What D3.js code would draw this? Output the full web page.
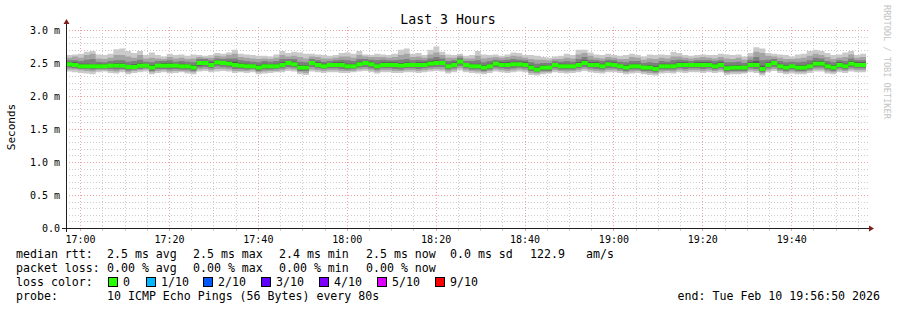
<!DOCTYPE html>
<html>
<head>
<meta charset="utf-8">
<script src="https://cdn.jsdelivr.net/npm/d3@7"></script>
<style>
  body { margin: 0; background: #fff; }
  text { font-family: "DejaVu Sans Mono", monospace; fill: #000; }
</style>
</head>
<body>
<svg id="chart" width="897" height="310"></svg>
<script>
// probe settings
let endTime = new Date(2026, 1, 10, 19, 56, 50);
let stepSeconds = 80;

// median rtt per step, ms
let median = [
  2.48,2.47,2.45,2.45,2.45,2.45,2.45,2.46,2.46,2.46,2.44,2.44,2.46,2.46,2.43,2.46,2.46,2.46,2.46,2.45,
  2.45,2.43,2.50,2.50,2.47,2.51,2.50,2.49,2.47,2.46,2.45,2.45,2.43,2.45,2.45,2.45,2.47,2.50,2.48,2.43,
  2.43,2.50,2.47,2.45,2.47,2.47,2.47,2.45,2.45,2.48,2.50,2.48,2.45,2.47,2.47,2.47,2.46,2.47,2.47,2.47,
  2.47,2.49,2.50,2.50,2.45,2.47,2.52,2.47,2.45,2.45,2.43,2.45,2.49,2.47,2.47,2.48,2.48,2.47,2.43,2.40,
  2.43,2.43,2.47,2.45,2.45,2.45,2.47,2.50,2.47,2.47,2.45,2.48,2.47,2.45,2.43,2.45,2.45,2.43,2.43,2.41,
  2.45,2.45,2.45,2.47,2.47,2.47,2.47,2.47,2.47,2.45,2.47,2.42,2.43,2.43,2.43,2.47,2.47,2.41,2.47,2.50,
  2.45,2.43,2.45,2.43,2.43,2.45,2.49,2.49,2.45,2.43,2.47,2.45,2.49,2.47,2.47
];

// the 10 sorted pings of each step, in 1/100 ms
let pings = [
  [237,240,243,245,247,249,251,254,258,262],[236,240,242,244,246,248,251,254,260,263],
  [235,239,241,243,244,246,249,253,258,264],[234,238,241,243,244,246,249,255,262,267],
  [233,237,240,242,244,246,248,256,264,268],[236,239,241,243,244,246,249,252,257,263],
  [237,239,241,243,244,246,248,251,256,262],[235,238,241,244,245,247,249,253,258,264],
  [234,237,240,243,245,247,250,254,262,271],[236,239,241,244,245,247,250,254,262,272],
  [233,236,239,241,243,245,247,252,260,268],[235,238,240,242,243,245,248,253,258,265],
  [236,239,241,244,245,247,250,255,262,268],[237,240,242,244,245,247,249,252,257,262],
  [233,236,238,240,242,244,247,251,258,266],[235,238,241,243,245,247,249,253,257,262],
  [236,239,241,244,245,247,250,253,256,260],[234,237,240,243,245,247,250,254,259,264],
  [235,238,241,243,245,247,249,252,257,262],[236,238,240,242,244,246,249,253,258,263],
  [234,237,240,242,244,246,248,252,256,261],[233,236,238,240,242,244,247,251,257,263],
  [237,240,243,246,249,251,253,256,259,262],[238,241,244,247,249,251,253,256,258,261],
  [236,239,242,245,246,248,251,254,258,262],[237,241,245,248,250,252,254,257,261,265],
  [238,241,244,247,249,251,253,256,260,264],[237,240,243,246,248,250,253,257,262,266],
  [235,238,241,244,246,248,252,257,264,270],[236,238,241,243,245,247,250,254,259,264],
  [235,238,240,242,244,246,249,253,258,263],[236,239,241,243,244,246,248,252,257,262],
  [233,236,238,240,242,244,247,251,256,261],[234,237,240,242,244,246,249,253,257,261],
  [235,238,240,242,244,246,248,252,256,260],[236,238,241,243,244,246,249,253,258,263],
  [236,239,242,244,246,248,251,256,262,268],[238,241,244,247,249,251,253,256,260,265],
  [237,240,243,245,247,249,252,256,261,267],[233,236,238,240,242,244,247,252,259,266],
  [232,235,238,240,242,244,247,251,257,264],[237,240,244,247,249,251,253,256,260,264],
  [236,239,242,244,246,248,251,254,259,263],[235,238,241,243,244,246,249,252,257,262],
  [236,239,242,244,246,248,250,253,257,261],[236,239,242,244,246,248,251,254,258,262],
  [235,238,241,244,246,248,251,255,260,265],[235,238,240,242,244,246,249,254,260,266],
  [236,238,241,243,244,246,249,253,258,264],[237,240,243,245,247,249,252,256,262,268],
  [238,241,244,247,249,251,253,256,260,263],[236,239,242,245,247,249,252,255,259,262],
  [234,237,240,242,244,246,249,254,259,264],[236,239,242,244,246,248,251,255,259,263],
  [236,239,242,244,246,248,251,254,258,262],[235,238,241,244,246,248,251,254,259,264],
  [235,238,240,243,245,247,250,255,262,270],[236,239,242,244,246,248,251,256,264,272],
  [236,239,242,244,246,248,250,254,259,264],[235,238,241,244,246,248,251,255,260,265],
  [236,239,242,244,246,248,251,254,258,262],[237,240,243,246,248,250,253,257,263,270],
  [238,241,244,247,249,251,254,259,266,275],[237,240,244,247,249,251,253,257,262,267],
  [234,237,240,242,244,246,249,253,258,263],[236,239,242,244,246,248,251,254,258,262],
  [239,242,246,249,251,253,255,258,261,264],[236,239,242,244,246,248,250,253,257,261],
  [235,238,240,242,244,246,249,253,257,262],[234,237,240,242,244,246,249,254,261,268],
  [233,236,238,240,242,244,247,251,257,263],[235,238,240,242,244,246,249,253,258,262],
  [237,240,243,246,248,250,252,255,259,263],[236,239,242,244,246,248,251,254,258,261],
  [235,238,241,244,246,248,251,255,259,263],[236,239,242,245,247,249,252,256,261,266],
  [237,240,243,245,247,249,252,255,260,265],[236,239,242,244,246,248,251,254,258,262],
  [232,235,238,240,242,244,247,251,256,262],[231,234,236,238,239,241,244,249,255,261],
  [233,236,238,240,242,244,247,250,255,259],[234,236,238,240,242,244,246,250,254,258],
  [236,239,242,244,246,248,250,253,256,260],[235,238,240,242,244,246,249,252,256,261],
  [234,237,240,242,244,246,249,253,258,264],[235,238,240,242,244,246,248,252,257,262],
  [236,239,242,244,246,248,251,256,263,270],[238,241,244,247,249,251,254,259,265,270],
  [236,239,242,244,246,248,251,255,261,266],[235,238,241,244,246,248,251,254,258,263],
  [234,237,240,242,244,246,249,253,257,262],[236,239,242,245,247,249,252,255,259,264],
  [236,239,242,244,246,248,251,254,258,262],[235,238,240,242,244,246,248,252,256,261],
  [233,236,238,240,242,244,247,251,256,262],[234,237,240,242,244,246,249,253,259,264],
  [235,238,240,242,244,246,249,253,258,262],[233,236,238,240,242,244,246,250,255,260],
  [232,235,238,240,242,244,247,251,257,263],[231,234,236,238,240,242,245,250,256,262],
  [234,237,240,242,244,246,249,253,258,263],[235,238,240,242,244,246,249,252,257,262],
  [234,237,240,242,244,246,249,254,260,267],[236,239,242,244,246,248,251,255,260,265],
  [235,238,241,244,246,248,251,254,258,262],[236,239,242,244,246,248,250,253,257,261],
  [236,239,242,244,246,248,251,254,258,262],[235,238,241,244,246,248,251,254,259,263],
  [236,239,242,244,246,248,251,254,258,262],[235,238,240,242,244,246,249,253,257,262],
  [236,239,242,244,246,248,251,254,259,264],[232,235,237,239,241,243,246,251,257,263],
  [233,236,238,240,242,244,247,251,256,262],[233,236,238,240,242,244,247,252,258,263],
  [234,236,238,240,242,244,246,250,255,260],[236,239,242,244,246,248,251,255,260,265],
  [235,238,241,244,246,248,253,259,267,274],[231,234,236,238,240,242,246,254,265,272],
  [236,239,242,244,246,248,251,255,261,265],[238,241,244,247,249,251,253,256,260,264],
  [235,238,240,242,244,246,249,253,258,263],[233,236,238,240,242,244,247,251,256,262],
  [234,237,240,242,244,246,248,252,256,260],[233,236,238,240,242,244,247,251,257,263],
  [233,236,238,240,242,244,247,252,258,264],[235,238,240,242,244,246,249,254,261,268],
  [237,240,243,246,248,250,253,258,264,270],[237,240,243,246,248,250,253,257,262,268],
  [234,237,240,242,244,246,249,253,259,265],[233,236,238,240,242,244,247,251,256,262],
  [236,239,242,244,246,248,251,254,258,263],[235,238,240,242,244,246,249,253,259,266],
  [237,240,243,246,248,250,253,257,263,268],[236,239,242,244,246,248,251,254,258,262],
  [236,239,242,244,246,248,251,254,259,264]
];

let yTicks = [0, 0.5, 1.0, 1.5, 2.0, 2.5, 3.0];   // ms
let smokeColors = ["#cacaca", "#a4a4a4", "#7e7e7e", "#585858", "#323232"];
let lossLabels = ["0", "1/10", "2/10", "3/10", "4/10", "5/10", "9/10"];
let lossColors = ["#26ff00", "#00b8ff", "#0059ff", "#5e00ff", "#7e00ff", "#dd00ff", "#ff0000"];

let rttRow = ["median rtt:", "2.5 ms avg", "2.5 ms max", "2.4 ms min", "2.5 ms now", "0.0 ms sd", "122.9", "am/s"];
let lossRow = ["packet loss:", "0.00 % avg", "0.00 % max", "0.00 % min", "0.00 % now"];
let probeText = "10 ICMP Echo Pings (56 Bytes) every 80s";

let svg = d3.select("#chart");
let W = 897;
let pLeft = 66, pRight = 866, pTop = 30, pBottom = 228;

let startTime = new Date(endTime.getTime() - pings.length * stepSeconds * 1000);

let x = d3.scaleTime().domain([startTime, endTime]).range([pLeft, pRight]);
let y = d3.scaleLinear().domain([0, 3]).range([pBottom, pTop]);

// step rows, last one repeated so the step curve reaches the end
let rows = pings.map(function(p, i) {
  let t0 = new Date(startTime.getTime() + i * stepSeconds * 1000);
  let t1 = new Date(t0.getTime() + stepSeconds * 1000);
  return { t: t0, t1: t1, p: p.map(v => v / 100), med: median[i] };
});
let last = rows[rows.length - 1];
let stepRows = rows.concat([{ t: endTime, p: last.p, med: last.med }]);

svg.append("rect").attr("width", W).attr("height", 310).attr("fill", "#fff");

let grid = svg.append("g");
let minorCol = "#cdcdcd", majorCol = "#eea4a4";

// minor vertical grid every 5 min, major every 20 min
let minorT = x.ticks(d3.timeMinute.every(5));
let majorT = x.ticks(d3.timeMinute.every(20));
let isMajor = t => t.getMinutes() % 20 === 0;

grid.selectAll("line.vmin").data(minorT.filter(t => !isMajor(t))).enter().append("line")
  .attr("x1", d => Math.round(x(d)) + 0.5).attr("x2", d => Math.round(x(d)) + 0.5)
  .attr("y1", pTop - 3).attr("y2", pBottom)
  .attr("stroke", minorCol).attr("stroke-dasharray", "1,2");

// minor horizontal grid each 0.1 ms
let minorY = d3.range(1, 31).map(v => v / 10).filter(v => Math.round(v * 10) % 5 !== 0);
grid.selectAll("line.hmin").data(minorY).enter().append("line")
  .attr("x1", pLeft).attr("x2", pRight + 2)
  .attr("y1", d => Math.round(y(d)) + 0.5).attr("y2", d => Math.round(y(d)) + 0.5)
  .attr("stroke", minorCol).attr("stroke-dasharray", "1,2");

grid.selectAll("line.vmaj").data(majorT).enter().append("line")
  .attr("x1", d => Math.round(x(d)) + 0.5).attr("x2", d => Math.round(x(d)) + 0.5)
  .attr("y1", pTop - 3).attr("y2", pBottom)
  .attr("stroke", majorCol).attr("stroke-dasharray", "1,2");

grid.selectAll("line.hmaj").data(yTicks.filter(v => v > 0)).enter().append("line")
  .attr("x1", pLeft).attr("x2", pRight + 2)
  .attr("y1", d => Math.round(y(d)) + 0.5).attr("y2", d => Math.round(y(d)) + 0.5)
  .attr("stroke", majorCol).attr("stroke-dasharray", "1,2");

// smoke: band k runs from ping k up to ping 9-k
let plot = svg.append("g");
smokeColors.forEach(function(c, k) {
  let band = d3.area()
    .x(d => x(d.t))
    .y0(d => y(d.p[k]))
    .y1(d => y(d.p[9 - k]))
    .curve(d3.curveStepAfter);
  plot.append("path").datum(stepRows).attr("d", band).attr("fill", c);
});

// median, coloured by loss (all zero loss here), one short bar per step
plot.selectAll("rect.med").data(rows).enter().append("rect")
  .attr("x", d => x(d.t))
  .attr("width", d => x(d.t1) - x(d.t) + 0.3)
  .attr("y", d => y(d.med) - 2)
  .attr("height", 4)
  .attr("fill", lossColors[0]);

// axes
let axisCol = "#1f1f1f", arrowCol = "#801f1f";
svg.append("line").attr("x1", pLeft - 4).attr("x2", pRight + 3).attr("y1", pBottom + 0.5).attr("y2", pBottom + 0.5)
  .attr("stroke", axisCol);
svg.append("line").attr("x1", pLeft + 0.5).attr("x2", pLeft + 0.5).attr("y1", pBottom + 4).attr("y2", pTop - 6)
  .attr("stroke", axisCol);
svg.append("path").attr("d", `M${pRight + 3},${pBottom - 2.5}L${pRight + 8},${pBottom + 0.5}L${pRight + 3},${pBottom + 3.5}Z`)
  .attr("fill", arrowCol);
svg.append("path").attr("d", `M${pLeft - 2.5},${pTop - 6}L${pLeft + 0.5},${pTop - 11}L${pLeft + 3.5},${pTop - 6}Z`)
  .attr("fill", arrowCol);

// x axis ticks
svg.selectAll("line.xt").data(minorT).enter().append("line")
  .attr("x1", d => Math.round(x(d)) + 0.5).attr("x2", d => Math.round(x(d)) + 0.5)
  .attr("y1", pBottom + 1).attr("y2", pBottom + 3)
  .attr("stroke", d => isMajor(d) ? majorCol : minorCol);

let xAxis = d3.axisBottom(x).tickValues(majorT).tickFormat(d3.timeFormat("%H:%M")).tickSize(0).tickPadding(8);
let xg = svg.append("g").attr("transform", "translate(0," + pBottom + ")").call(xAxis);
xg.select(".domain").remove();
xg.selectAll("text").attr("font-family", "DejaVu Sans Mono").attr("font-size", "10px").style("fill", "#000");

let yAxis = d3.axisLeft(y).tickValues(yTicks)
  .tickFormat(d => d === 0 ? "0.0" : d3.format(".1f")(d) + " m").tickSize(0).tickPadding(6);
let yg = svg.append("g").attr("transform", "translate(" + pLeft + ",0)").call(yAxis);
yg.select(".domain").remove();
yg.selectAll("text").attr("font-family", "DejaVu Sans Mono").attr("font-size", "10px").style("fill", "#000");

// titles
svg.append("text").attr("x", 448).attr("y", 24).attr("text-anchor", "middle")
  .style("font-size", "13.2px").text("Last 3 Hours");
svg.append("text").attr("transform", "translate(15,127) rotate(-90)").attr("text-anchor", "middle")
  .style("font-size", "11px").text("Seconds");
svg.append("text").attr("transform", "translate(884,5) rotate(90)")
  .style("font-size", "8.6px").style("fill", "#c4c4c4").text("RRDTOOL / TOBI OETIKER");

// legend
let fs = "11.6px";
let colX = [16, 107, 193, 279, 366, 450, 530, 586];
let legend = svg.append("g").style("font-size", fs);
rttRow.forEach((s, i) => legend.append("text").attr("x", colX[i]).attr("y", 258).attr("xml:space", "preserve").text(s));
lossRow.forEach((s, i) => legend.append("text").attr("x", colX[i]).attr("y", 272).attr("xml:space", "preserve").text(s));

legend.append("text").attr("x", 16).attr("y", 286).text("loss color:");
let boxX = [108, 146, 203, 261, 319, 377, 435];
lossLabels.forEach(function(l, i) {
  legend.append("rect").attr("x", boxX[i] + 0.5).attr("y", 277.5).attr("width", 9).attr("height", 9)
    .attr("fill", lossColors[i]).attr("stroke", "#000");
  legend.append("text").attr("x", boxX[i] + 15).attr("y", 286).text(l);
});

legend.append("text").attr("x", 16).attr("y", 300).text("probe:");
legend.append("text").attr("x", 107).attr("y", 300).text(probeText);
legend.append("text").attr("x", 880).attr("y", 300).attr("text-anchor", "end")
  .text("end: " + d3.timeFormat("%a %b %d %H:%M:%S %Y")(endTime));
</script>
</body>
</html>
